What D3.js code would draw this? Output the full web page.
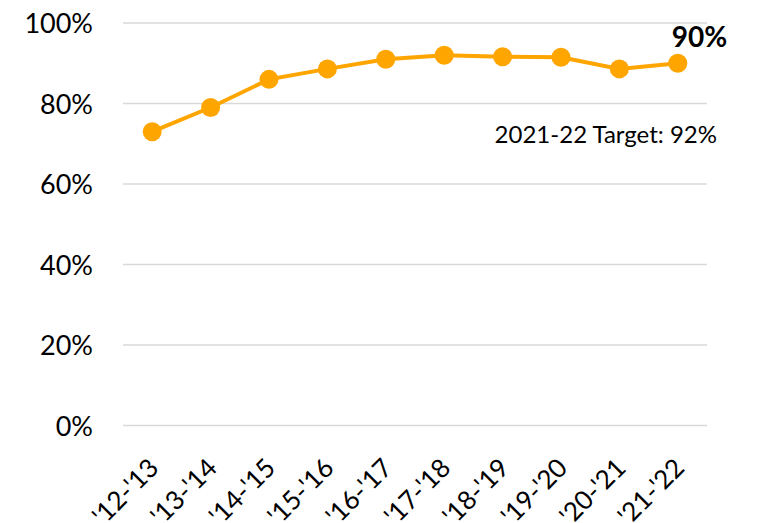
<!DOCTYPE html>
<html>
<head>
<meta charset="utf-8">
<script src="https://cdn.jsdelivr.net/npm/d3@7"></script>
<style>
  html, body { margin: 0; padding: 0; background: #fff; }
  svg text { font-family: "Lato", "Open Sans", sans-serif; fill: #000; }
</style>
</head>
<body>
<svg id="chart" width="757" height="523"></svg>
<script>
// School years and the rate recorded for each
const years = ["'12-'13", "'13-'14", "'14-'15", "'15-'16", "'16-'17", "'17-'18", "'18-'19", "'19-'20", "'20-'21", "'21-'22"];
const rates = [73, 79, 86, 88.6, 91, 92, 91.6, 91.5, 88.6, 90];
const yTicks = [0, 20, 40, 60, 80, 100];
const latestLabel = "90%";
const targetLabel = "2021-22 Target: 92%";

const svg = d3.select("#chart");
const plotLeft = 123, plotRight = 707, plotTop = 23, plotBottom = 425.5;

const x = d3.scaleBand().domain(years).range([plotLeft, plotRight]).padding(0);
const y = d3.scaleLinear().domain([0, 100]).range([plotBottom, plotTop]);

// Horizontal gridlines
svg.append("g")
  .selectAll("line")
  .data(yTicks)
  .join("line")
  .attr("x1", plotLeft).attr("x2", plotRight)
  .attr("y1", d => y(d)).attr("y2", d => y(d))
  .attr("stroke", "#d9d9d9").attr("stroke-width", 1.5);

// Y axis labels
const yAxis = d3.axisLeft(y).tickValues(yTicks).tickFormat(d => d + "%").tickSize(0).tickPadding(0);
svg.append("g")
  .attr("transform", `translate(93,0)`)
  .call(yAxis)
  .call(g => g.select(".domain").remove())
  .call(g => g.selectAll("text")
    .attr("font-size", 27)
    .attr("dy", "0.36em")
    .style("font-family", "Lato, sans-serif")
    .attr("fill", "#000"));

// X axis labels, rotated
const xAxis = d3.axisBottom(x).tickSize(0).tickPadding(0);
svg.append("g")
  .attr("transform", `translate(0,${plotBottom})`)
  .call(xAxis)
  .call(g => g.select(".domain").remove())
  .call(g => g.selectAll("text")
    .attr("font-size", 26)
    .style("font-family", "Lato, sans-serif")
    .attr("fill", "#000")
    .attr("text-anchor", "end")
    .attr("dy", 0)
    .attr("y", 0)
    .attr("transform", "translate(8,44) rotate(-45)"));

// Line and markers
const cx = d => x(d) + x.bandwidth() / 2;
const line = d3.line().x((d, i) => cx(years[i])).y(d => y(d));
svg.append("path")
  .datum(rates)
  .attr("d", line)
  .attr("fill", "none")
  .attr("stroke", "#FFA500")
  .attr("stroke-width", 4);

svg.append("g")
  .selectAll("circle")
  .data(rates)
  .join("circle")
  .attr("cx", (d, i) => cx(years[i]))
  .attr("cy", d => y(d))
  .attr("r", 9.5)
  .attr("fill", "#FFA500");

// Latest value label
const lastIdx = rates.length - 1;
svg.append("text")
  .attr("x", cx(years[lastIdx]) - 6)
  .attr("y", y(rates[lastIdx]) - 16)
  .attr("font-size", 28)
  .attr("font-weight", "bold")
  .text(latestLabel);

// Target annotation
svg.append("text")
  .attr("x", 717)
  .attr("y", 143)
  .attr("text-anchor", "end")
  .attr("font-size", 24)
  .text(targetLabel);
</script>
</body>
</html>
